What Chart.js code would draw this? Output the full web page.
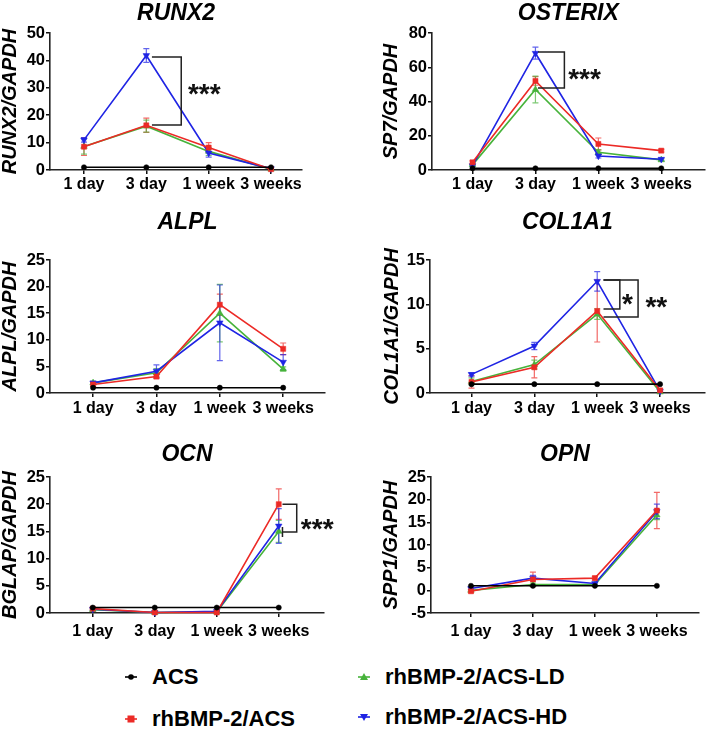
<!DOCTYPE html>
<html><head><meta charset="utf-8">
<script src="https://cdn.jsdelivr.net/npm/chart.js@4"></script>
<style>
html,body{margin:0;padding:0;background:#fff}
body{width:709px;height:729px;position:relative;overflow:hidden;font-family:"Liberation Sans",Arial,Helvetica,sans-serif}
canvas{position:absolute}
.leg{position:absolute;font-weight:bold;font-size:22px;color:#000;height:30px;line-height:30px;white-space:nowrap}
.leg svg{position:absolute;left:-31px;top:8px}
</style></head><body>
<canvas id="c0" style="left:0;top:0" width="354" height="200"></canvas>
<canvas id="c1" style="left:354px;top:0" width="355" height="200"></canvas>
<canvas id="c2" style="left:0;top:200px" width="354" height="230"></canvas>
<canvas id="c3" style="left:354px;top:200px" width="355" height="230"></canvas>
<canvas id="c4" style="left:0;top:430px" width="354" height="220"></canvas>
<canvas id="c5" style="left:354px;top:430px" width="355" height="220"></canvas>
<div id="legend"></div>
<script>
// ---------- data ----------
const timepoints = ['1 day', '3 day', '1 week', '3 weeks'];
const groups = ['ACS', 'rhBMP-2/ACS', 'rhBMP-2/ACS-LD', 'rhBMP-2/ACS-HD'];

const runx2ACS = [1, 1, 1, 1];
const runx2BMP = [8.5, 16.3, 8.2, 0.3];
const runx2LD  = [8.6, 16.0, 6.8, 0.3];
const runx2HD  = [11.0, 41.8, 6.2, 0.5];
const runx2BMPerr = [3.2, 2.6, 1.8, 0.2];
const runx2LDerr  = [2.8, 2.2, 1.5, 0.2];
const runx2HDerr  = [0.8, 2.5, 1.5, 0.2];

const osxACS = [1, 1, 1, 1];
const osxBMP = [4.5, 52.0, 15.2, 11.3];
const osxLD  = [3.0, 47.0, 10.3, 5.9];
const osxHD  = [2.5, 68.2, 8.2, 6.3];
const osxBMPerr = [0.8, 2.5, 3.5, 0.8];
const osxLDerr  = [0.5, 7.8, 1.5, 0.6];
const osxHDerr  = [0.5, 3.5, 1.2, 0.6];

const alplACS = [1, 1, 1, 1];
const alplBMP = [1.6, 3.1, 16.6, 8.3];
const alplLD  = [1.9, 3.8, 15.0, 4.5];
const alplHD  = [1.9, 4.1, 13.2, 5.8];
const alplBMPerr = [0.3, 0.4, 2.0, 1.1];
const alplLDerr  = [0.3, 0.8, 5.4, 0.4];
const alplHDerr  = [0.3, 1.2, 7.1, 1.4];

const colACS = [1, 1, 1, 1];
const colBMP = [1.25, 2.9, 9.25, 0.3];
const colLD  = [1.3, 3.2, 8.9, 0.1];
const colHD  = [2.1, 5.3, 12.6, 0.2];
const colBMPerr = [0.7, 1.2, 3.5, 0.2];
const colLDerr  = [0.4, 0.5, 0.6, 0.1];
const colHDerr  = [0.2, 0.4, 1.1, 0.1];

const ocnACS = [1, 1, 1, 1];
const ocnBMP = [0.8, 0.1, 0.1, 20.0];
const ocnLD  = [0.6, 0.1, 0.2, 15.0];
const ocnHD  = [0.7, 0.1, 0.3, 16.0];
const ocnBMPerr = [0.2, 0.1, 0.1, 2.8];
const ocnLDerr  = [0.2, 0.1, 0.1, 2.0];
const ocnHDerr  = [0.2, 0.1, 0.1, 3.2];

const opnACS = [1, 1, 1, 1];
const opnBMP = [-0.2, 2.4, 2.7, 17.6];
const opnLD  = [0.0, 1.3, 1.3, 16.6];
const opnHD  = [0.4, 2.7, 1.5, 17.4];
const opnBMPerr = [0.3, 1.6, 0.4, 4.0];
const opnLDerr  = [0.2, 0.3, 0.3, 1.0];
const opnHDerr  = [0.2, 0.6, 0.3, 1.6];

// significance brackets (in data units: x = timepoint index, y = value)
const runx2Sig = [{x0: 1.09, x1: 1.56, yTop: 41.2, yBot: 16.4, label: '***', lx: 1.93, ly: 30.3}];
const osxSig   = [{x0: 1.04, x1: 1.46, yTop: 68.9, yBot: 47.9, label: '***', lx: 1.78, ly: 57.2}];
const colSig   = [{x0: 2.10, x1: 2.36, yTop: 12.74, yBot: 9.47, label: '*', lx: 2.48, ly: 10.85},
                  {x0: 2.10, x1: 2.65, yTop: 12.74, yBot: 8.57, label: '**', lx: 2.94, ly: 10.5}];
const ocnSig   = [{x0: 3.06, x1: 3.29, yTop: 20.0, yBot: 14.9, label: '***', lx: 3.62, ly: 16.8, cap: true}];
const opnSig   = [];

// ---------- styles ----------
const FAM = '"Liberation Sans", Arial, Helvetica, sans-serif';
const seriesColors = ['#000000', '#ec2a26', '#47b33b', '#1f24e4'];
const seriesStyles = [
  {pointStyle: 'circle', radius: 2.6, rotation: 0},
  {pointStyle: 'rect', radius: 3.6, rotation: 0},
  {pointStyle: 'triangle', radius: 3.8, rotation: 0},
  {pointStyle: 'triangle', radius: 3.8, rotation: 180}
];
const drawOrder = [0, 1, 3, 2];

const panels = [
  {id: 'c0', title: 'RUNX2', ytitle: 'RUNX2/GAPDH', ymin: 0, ymax: 50, step: 10, xmin: -0.545, xmax: 3.497,
   means: [runx2ACS, runx2BMP, runx2LD, runx2HD], errs: [null, runx2BMPerr, runx2LDerr, runx2HDerr], sig: runx2Sig,
   yw: 50, xh: 30, padR: 52, tTop: 0, tBot: 5.4, ytPad: 0, xpad: 1},
  {id: 'c1', title: 'OSTERIX', ytitle: 'SP7/GAPDH', ymin: 0, ymax: 80, step: 20, xmin: -0.644, xmax: 3.69,
   means: [osxACS, osxBMP, osxLD, osxHD], errs: [null, osxBMPerr, osxLDerr, osxHDerr], sig: osxSig,
   yw: 78, xh: 30, padR: 1, tTop: 0, tBot: 5.4, ytPad: 27, xpad: 1},
  {id: 'c2', title: 'ALPL', ytitle: 'ALPL/GAPDH', ymin: 0, ymax: 25, step: 5, xmin: -0.68, xmax: 3.66,
   means: [alplACS, alplBMP, alplLD, alplHD], errs: [null, alplBMPerr, alplLDerr, alplHDerr], sig: [],
   yw: 50, xh: 37, padR: 29, tTop: 9.2, tBot: 23.2, ytPad: 0.5, xpad: 2},
  {id: 'c3', title: 'COL1A1', ytitle: 'COL1A1/GAPDH', ymin: 0, ymax: 15, step: 5, xmin: -0.66, xmax: 3.71,
   means: [colACS, colBMP, colLD, colHD], errs: [null, colBMPerr, colLDerr, colHDerr], sig: colSig,
   yw: 76, xh: 37, padR: 1, tTop: 9.2, tBot: 23.2, ytPad: 28, xpad: 2},
  {id: 'c4', title: 'OCN', ytitle: 'BGLAP/GAPDH', ymin: 0, ymax: 25, step: 5, xmin: -0.69, xmax: 3.73,
   means: [ocnACS, ocnBMP, ocnLD, ocnHD], errs: [null, ocnBMPerr, ocnLDerr, ocnHDerr], sig: ocnSig,
   yw: 50, xh: 37, padR: 30, tTop: 11.2, tBot: 8.2, ytPad: 0, xpad: 5},
  {id: 'c5', title: 'OPN', ytitle: 'SPP1/GAPDH', ymin: -5, ymax: 25, step: 5, xmin: -0.645, xmax: 3.68,
   means: [opnACS, opnBMP, opnLD, opnHD], errs: [null, opnBMPerr, opnLDerr, opnHDerr], sig: opnSig,
   yw: 77, xh: 37, padR: 10, tTop: 11.2, tBot: 8.2, ytPad: 27, xpad: 5}
];

function makePlugin(p) {
  return {
    id: 'errAndSig',
    beforeDatasetsDraw(chart) {
      const ctx = chart.ctx, x = chart.scales.x, y = chart.scales.y;
      ctx.save();
      chart.data.datasets.forEach((ds) => {
        const e = ds.errors; if (!e) return;
        ctx.strokeStyle = ds.borderColor; ctx.globalAlpha = 0.7; ctx.lineWidth = 1.2;
        ds.data.forEach((pt, j) => {
          const px = x.getPixelForValue(pt.x);
          const y1 = y.getPixelForValue(pt.y + e[j]);
          const y2 = y.getPixelForValue(pt.y - e[j]);
          ctx.beginPath();
          ctx.moveTo(px, y1); ctx.lineTo(px, y2);
          ctx.moveTo(px - 3, y1); ctx.lineTo(px + 3, y1);
          ctx.moveTo(px - 3, y2); ctx.lineTo(px + 3, y2);
          ctx.stroke();
        });
      });
      ctx.restore();
    },
    afterDatasetsDraw(chart) {
      const ctx = chart.ctx, x = chart.scales.x, y = chart.scales.y;
      ctx.save();
      ctx.strokeStyle = '#222'; ctx.lineWidth = 1.5; ctx.fillStyle = '#111';
      p.sig.forEach((s) => {
        const a = x.getPixelForValue(s.x0), b = x.getPixelForValue(s.x1);
        const t = y.getPixelForValue(s.yTop), d = y.getPixelForValue(s.yBot);
        ctx.beginPath();
        ctx.moveTo(a, t); ctx.lineTo(b, t); ctx.lineTo(b, d); ctx.lineTo(a, d);
        if (s.cap) { ctx.moveTo(a, d - 5); ctx.lineTo(a, d + 5); }
        ctx.stroke();
        const size = 28;
        ctx.font = 'bold ' + size + 'px ' + FAM;
        ctx.textAlign = 'center'; ctx.textBaseline = 'alphabetic';
        ctx.fillText(s.label, x.getPixelForValue(s.lx), y.getPixelForValue(s.ly) + 0.58 * size);
      });
      ctx.restore();
    }
  };
}

panels.forEach((p) => {
  const datasets = groups.map((g, i) => ({
    label: g,
    data: timepoints.map((_, j) => ({x: j, y: p.means[i][j]})),
    errors: p.errs[i],
    borderColor: seriesColors[i],
    backgroundColor: seriesColors[i],
    borderWidth: 1.6,
    pointStyle: seriesStyles[i].pointStyle,
    pointRadius: seriesStyles[i].radius,
    pointRotation: seriesStyles[i].rotation,
    pointBorderWidth: 0.5,
    pointHoverRadius: seriesStyles[i].radius,
    tension: 0,
    clip: false,
    order: drawOrder[i]
  }));
  new Chart(document.getElementById(p.id), {
    type: 'line',
    data: {datasets},
    plugins: [makePlugin(p)],
    options: {
      responsive: false, animation: false, devicePixelRatio: 1,
      layout: {padding: {left: 0, right: p.padR, top: 0, bottom: 0}},
      plugins: {
        legend: {display: false}, tooltip: {enabled: false},
        title: {display: true, text: p.title, fullSize: false, color: '#000',
                font: {family: FAM, size: 23, weight: 'bold', style: 'italic', lineHeight: 1.2},
                padding: {top: p.tTop, bottom: p.tBot}}
      },
      scales: {
        x: {
          type: 'linear', min: p.xmin, max: p.xmax,
          afterBuildTicks: (s) => { s.ticks = timepoints.map((_, i) => ({value: i})); },
          afterFit: (s) => { s.height = p.xh; },
          ticks: {callback: (v) => timepoints[Math.round(v)], color: '#000', padding: p.xpad, maxRotation: 0, autoSkip: false,
                  font: {family: FAM, size: 16, weight: 'bold'}},
          grid: {drawOnChartArea: false, drawTicks: true, tickLength: 4, color: '#111', lineWidth: 1.5},
          border: {display: true, color: '#222', width: 1.6}
        },
        y: {
          type: 'linear', min: p.ymin, max: p.ymax,
          afterFit: (s) => { s.width = p.yw; },
          ticks: {stepSize: p.step, autoSkip: false, color: '#000', padding: 1, font: {family: FAM, size: 16.5, weight: 'bold'}},
          grid: {drawOnChartArea: false, drawTicks: true, tickLength: 4, color: '#111', lineWidth: 1.5},
          border: {display: true, color: '#222', width: 1.6},
          title: {display: true, text: p.ytitle, color: '#000', padding: {top: p.ytPad, bottom: 0},
                  font: {family: FAM, size: 20, weight: 'bold', style: 'italic', lineHeight: 1}}
        }
      }
    }
  });
});

// ---------- legend ----------
const legendPos = [{x: 152, y: 662}, {x: 152, y: 704}, {x: 385, y: 662}, {x: 385, y: 702}];
const legendEl = document.getElementById('legend');
groups.forEach((g, i) => {
  const d = document.createElement('div');
  d.className = 'leg';
  d.style.left = legendPos[i].x + 'px';
  d.style.top = legendPos[i].y + 'px';
  const c = seriesColors[i];
  let mark = '';
  if (i === 0) mark = `<circle cx="10" cy="7" r="2.8" fill="${c}"/>`;
  if (i === 1) mark = `<rect x="6.5" y="3.5" width="7" height="7" fill="${c}"/>`;
  if (i === 2) mark = `<polygon points="10,3 14,10 6,10" fill="${c}"/>`;
  if (i === 3) mark = `<polygon points="10,11 14,4 6,4" fill="${c}"/>`;
  d.innerHTML = `<svg width="20" height="14"><line x1="4" y1="7" x2="16" y2="7" stroke="${c}" stroke-width="1.6"/>${mark}</svg>` + g;
  legendEl.appendChild(d);
});
</script>
</body></html>
